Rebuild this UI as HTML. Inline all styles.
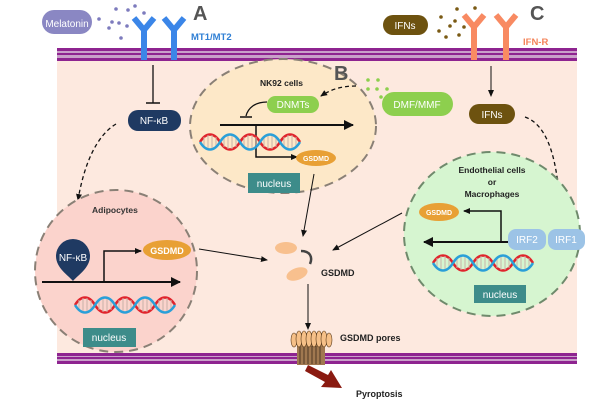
<!DOCTYPE html>
<html><head><meta charset="utf-8"><style>
html,body{margin:0;padding:0;background:#fff}
svg{display:block;font-family:"Liberation Sans",sans-serif}
</style></head><body>
<svg width="600" height="400" viewBox="0 0 600 400">
<defs>
<marker id="ar" markerWidth="8" markerHeight="8" refX="6" refY="4" orient="auto" markerUnits="userSpaceOnUse"><path d="M0,1 L7,4 L0,7 z" fill="#111"/></marker>
<marker id="arb" markerWidth="12" markerHeight="12" refX="9" refY="6" orient="auto" markerUnits="userSpaceOnUse"><path d="M0,1 L10,6 L0,11 z" fill="#111"/></marker>
<g id="dna">
<path d="M0,0 C6,-10 14,-10 20,0 S34,10 40,0 S54,-10 60,0 S74,10 80,0 S94,-10 100,0" fill="none" stroke="#e0242c" stroke-width="2.5"/>
<g stroke="#c9b2a8" stroke-width="1">
<line x1="4" y1="-5" x2="4" y2="5"/><line x1="8" y1="-7" x2="8" y2="7"/><line x1="12" y1="-7" x2="12" y2="7"/><line x1="16" y1="-5" x2="16" y2="5"/>
<line x1="24" y1="-5" x2="24" y2="5"/><line x1="28" y1="-7" x2="28" y2="7"/><line x1="32" y1="-7" x2="32" y2="7"/><line x1="36" y1="-5" x2="36" y2="5"/>
<line x1="44" y1="-5" x2="44" y2="5"/><line x1="48" y1="-7" x2="48" y2="7"/><line x1="52" y1="-7" x2="52" y2="7"/><line x1="56" y1="-5" x2="56" y2="5"/>
<line x1="64" y1="-5" x2="64" y2="5"/><line x1="68" y1="-7" x2="68" y2="7"/><line x1="72" y1="-7" x2="72" y2="7"/><line x1="76" y1="-5" x2="76" y2="5"/>
<line x1="84" y1="-5" x2="84" y2="5"/><line x1="88" y1="-7" x2="88" y2="7"/><line x1="92" y1="-7" x2="92" y2="7"/><line x1="96" y1="-5" x2="96" y2="5"/>
</g>
<path d="M0,0 C6,10 14,10 20,0 S34,-10 40,0 S54,10 60,0 S74,-10 80,0 S94,10 100,0" fill="none" stroke="#2a9fd8" stroke-width="2.5"/>
</g>
</defs>
<rect x="57" y="60" width="520" height="294" fill="#fde9df"/>
<g>
<rect x="57" y="48" width="520" height="13" fill="#c9a0c9"/>
<rect x="57" y="48" width="520" height="3" fill="#8e2490"/>
<rect x="57" y="53" width="520" height="2" fill="#8e2490"/>
<rect x="57" y="58" width="520" height="3" fill="#8e2490"/>
<rect x="57" y="353" width="520" height="11" fill="#c9a0c9"/>
<rect x="57" y="353" width="520" height="3" fill="#8e2490"/>
<rect x="57" y="357" width="520" height="2" fill="#8e2490"/>
<rect x="57" y="361" width="520" height="3" fill="#8e2490"/>
</g>
<rect x="42" y="10" width="50" height="24" rx="12" fill="#8a87c3"/>
<text x="67" y="27" font-size="10" fill="#fff" text-anchor="middle">Melatonin</text>
<g fill="#7d7bbd"><circle cx="99" cy="19" r="1.8"/><circle cx="116" cy="9" r="1.8"/><circle cx="128" cy="10" r="1.8"/><circle cx="135" cy="6" r="1.8"/><circle cx="112" cy="22" r="1.8"/><circle cx="109" cy="28" r="1.8"/><circle cx="119" cy="23" r="1.8"/><circle cx="127" cy="26" r="1.8"/><circle cx="121" cy="38" r="1.8"/><circle cx="144" cy="13" r="1.8"/></g>
<g stroke="#3b86e8" stroke-width="6" fill="none"><path d="M134,18 L144,30 L154,18 M144,30 V60"/><path d="M164,18 L174,30 L184,18 M174,30 V60"/></g>
<text x="193" y="20" font-size="20" font-weight="bold" fill="#555">A</text>
<text x="191" y="40" font-size="9.5" font-weight="bold" fill="#2f7fd4">MT1/MT2</text>
<rect x="383" y="15" width="45" height="20" rx="10" fill="#6d520f"/>
<text x="405" y="29" font-size="10" fill="#fff" text-anchor="middle">IFNs</text>
<g fill="#7a5a14"><circle cx="441" cy="17" r="1.8"/><circle cx="457" cy="9" r="1.8"/><circle cx="475" cy="8" r="1.8"/><circle cx="455" cy="21" r="1.8"/><circle cx="450" cy="26" r="1.8"/><circle cx="439" cy="31" r="1.8"/><circle cx="459" cy="35" r="1.8"/><circle cx="446" cy="37" r="1.8"/><circle cx="464" cy="27" r="1.8"/></g>
<g stroke="#f88a62" stroke-width="6" fill="none"><path d="M464,15 L474,27 L484,15 M474,27 V60"/><path d="M496,15 L506,27 L516,15 M506,27 V60"/></g>
<text x="530" y="20" font-size="20" font-weight="bold" fill="#555">C</text>
<text x="523" y="45" font-size="9.5" font-weight="bold" fill="#f4845a">IFN-R</text>
<ellipse cx="283" cy="126" rx="93" ry="67" fill="#fde8c8" stroke="#8a8076" stroke-width="2" stroke-dasharray="9,6"/>
<text x="260" y="86" font-size="8.5" font-weight="bold" fill="#222">NK92 cells</text>
<text x="334" y="80" font-size="20" font-weight="bold" fill="#555">B</text>
<rect x="267" y="96" width="52" height="17" rx="8.5" fill="#8dcf4e"/>
<text x="293" y="108" font-size="10" fill="#fff" text-anchor="middle">DNMTs</text>
<path d="M267,102 C255,102 248,108 246,116" fill="none" stroke="#111" stroke-width="1.3"/>
<line x1="240" y1="117" x2="252" y2="117" stroke="#111" stroke-width="1.5"/>
<line x1="220" y1="125" x2="353" y2="125" stroke="#111" stroke-width="2" marker-end="url(#arb)"/>
<path d="M256,125 V157 H297" fill="none" stroke="#111" stroke-width="1.5" marker-end="url(#ar)"/>
<use href="#dna" x="200" y="142"/>
<ellipse cx="316" cy="158" rx="20" ry="8" fill="#e8a035"/>
<text x="316" y="161" font-size="7" font-weight="bold" fill="#fff" text-anchor="middle">GSDMD</text>
<rect x="248" y="173" width="52" height="20" fill="#3d8c8a"/>
<text x="274" y="187" font-size="10" fill="#fff" text-anchor="middle">nucleus</text>
<g fill="#8dcf4e"><circle cx="368" cy="80" r="1.8"/><circle cx="378" cy="80" r="1.8"/><circle cx="368" cy="89" r="1.8"/><circle cx="377" cy="89" r="1.8"/><circle cx="387" cy="89" r="1.8"/><circle cx="381" cy="97" r="1.8"/></g>
<rect x="382" y="92" width="71" height="24" rx="12" fill="#8dcf4e"/>
<text x="417" y="108" font-size="10" fill="#fff" text-anchor="middle">DMF/MMF</text>
<path d="M356,86 C340,86 330,90 321,96" fill="none" stroke="#111" stroke-width="1.3" stroke-dasharray="4,3" marker-end="url(#ar)"/>
<line x1="153" y1="65" x2="153" y2="103" stroke="#111" stroke-width="1.3"/>
<line x1="146" y1="103" x2="160" y2="103" stroke="#111" stroke-width="1.5"/>
<rect x="128" y="110" width="53" height="21" rx="10" fill="#1f3a62"/>
<text x="154" y="124" font-size="10" fill="#fff" text-anchor="middle">NF-κB</text>
<path d="M116,124 C96,136 84,165 78,200" fill="none" stroke="#111" stroke-width="1.3" stroke-dasharray="4,3" marker-end="url(#ar)"/>
<line x1="491" y1="66" x2="491" y2="96" stroke="#111" stroke-width="1" marker-end="url(#ar)"/>
<rect x="469" y="104" width="46" height="20" rx="10" fill="#6d520f"/>
<text x="492" y="118" font-size="10" fill="#fff" text-anchor="middle">IFNs</text>
<path d="M525,117 C548,125 558,160 560,212" fill="none" stroke="#111" stroke-width="1.3" stroke-dasharray="4,3" marker-end="url(#ar)"/>
<!-- Adipocyte -->
<ellipse cx="116" cy="271" rx="81" ry="81" fill="#fbd3cc" stroke="#8a8076" stroke-width="2" stroke-dasharray="9,6"/>
<text x="92" y="213" font-size="8.5" font-weight="bold" fill="#333">Adipocytes</text>
<path d="M73,281 C68,275 56,268 56,256 A17,17 0 0 1 90,256 C90,268 78,275 73,281 z" fill="#1f3a62"/>
<text x="73" y="261" font-size="10" fill="#fff" text-anchor="middle">NF-κB</text>
<line x1="42" y1="282" x2="180" y2="282" stroke="#111" stroke-width="2" marker-end="url(#arb)"/>
<path d="M104,282 V251 H141" fill="none" stroke="#111" stroke-width="1.5" marker-end="url(#ar)"/>
<ellipse cx="167" cy="250" rx="24" ry="10" fill="#e8a035"/>
<text x="167" y="254" font-size="9" font-weight="bold" fill="#fff" text-anchor="middle">GSDMD</text>
<use href="#dna" x="75" y="305"/>
<rect x="83" y="328" width="53" height="19" fill="#3d8c8a"/>
<text x="109" y="341" font-size="10" fill="#fff" text-anchor="middle">nucleus</text>
<!-- Endothelial -->
<ellipse cx="492" cy="234" rx="88" ry="82" fill="#d6f5d0" stroke="#6f8a6c" stroke-width="2" stroke-dasharray="9,6"/>
<text x="492" y="173" font-size="8.5" font-weight="bold" fill="#222" text-anchor="middle">Endothelial cells</text>
<text x="492" y="185" font-size="8.5" font-weight="bold" fill="#222" text-anchor="middle">or</text>
<text x="492" y="197" font-size="8.5" font-weight="bold" fill="#222" text-anchor="middle">Macrophages</text>
<rect x="508" y="229" width="38" height="21" rx="8" fill="#9cc3e6"/>
<rect x="548" y="229" width="37" height="21" rx="8" fill="#9cc3e6"/>
<text x="527" y="243" font-size="10" fill="#fff" text-anchor="middle">IRF2</text>
<text x="566" y="243" font-size="10" fill="#fff" text-anchor="middle">IRF1</text>
<line x1="508" y1="242" x2="424" y2="242" stroke="#111" stroke-width="2" marker-end="url(#arb)"/>
<path d="M501,242 V211 H464" fill="none" stroke="#111" stroke-width="1.5" marker-end="url(#ar)"/>
<ellipse cx="439" cy="212" rx="20" ry="9" fill="#e8a035"/>
<text x="439" y="215" font-size="7" font-weight="bold" fill="#fff" text-anchor="middle">GSDMD</text>
<use href="#dna" x="433" y="263"/>
<rect x="474" y="285" width="52" height="18" fill="#3d8c8a"/>
<text x="500" y="298" font-size="10" fill="#fff" text-anchor="middle">nucleus</text>
<!-- central -->
<line x1="314" y1="174" x2="303" y2="236" stroke="#111" stroke-width="1" marker-end="url(#ar)"/>
<line x1="402" y1="213" x2="333" y2="250" stroke="#111" stroke-width="1" marker-end="url(#ar)"/>
<line x1="199" y1="249" x2="267" y2="260" stroke="#111" stroke-width="1" marker-end="url(#ar)"/>
<ellipse cx="286" cy="248" rx="11" ry="6" fill="#f8c08e"/>
<ellipse cx="297" cy="274" rx="11" ry="6" transform="rotate(-20 297 274)" fill="#f8c08e"/>
<path d="M301,251 C310,251 313,257 310,264" fill="none" stroke="#444" stroke-width="2.5"/>
<text x="321" y="276" font-size="9" font-weight="bold" fill="#222">GSDMD</text>
<line x1="308" y1="284" x2="308" y2="329" stroke="#111" stroke-width="1" marker-end="url(#ar)"/>
<!-- pore -->
<rect x="297" y="344" width="28" height="21" fill="#a07850"/>
<g stroke="#3a2a1a" stroke-width="0.8"><line x1="300" y1="346" x2="300" y2="364"/><line x1="304" y1="346" x2="304" y2="364"/><line x1="308" y1="346" x2="308" y2="364"/><line x1="312" y1="346" x2="312" y2="364"/><line x1="316" y1="346" x2="316" y2="364"/><line x1="320" y1="346" x2="320" y2="364"/></g>
<g fill="#f6c088" stroke="#5a3a1a" stroke-width="0.6">
<ellipse cx="294" cy="340" rx="3" ry="7"/><ellipse cx="299" cy="339" rx="3" ry="8"/><ellipse cx="304" cy="339" rx="3" ry="8"/><ellipse cx="309" cy="339" rx="3" ry="8"/><ellipse cx="314" cy="339" rx="3" ry="8"/><ellipse cx="319" cy="339" rx="3" ry="8"/><ellipse cx="324" cy="339" rx="3" ry="8"/><ellipse cx="329" cy="340" rx="3" ry="7"/>
</g>
<text x="340" y="341" font-size="9" font-weight="bold" fill="#222">GSDMD pores</text>
<path d="M308,365 L328,375 L331,370 L342,388 L321,387 L325,382 L305,371 z" fill="#8a1a10"/>
<text x="356" y="397" font-size="9" font-weight="bold" fill="#222">Pyroptosis</text>
</svg>
</body></html>
